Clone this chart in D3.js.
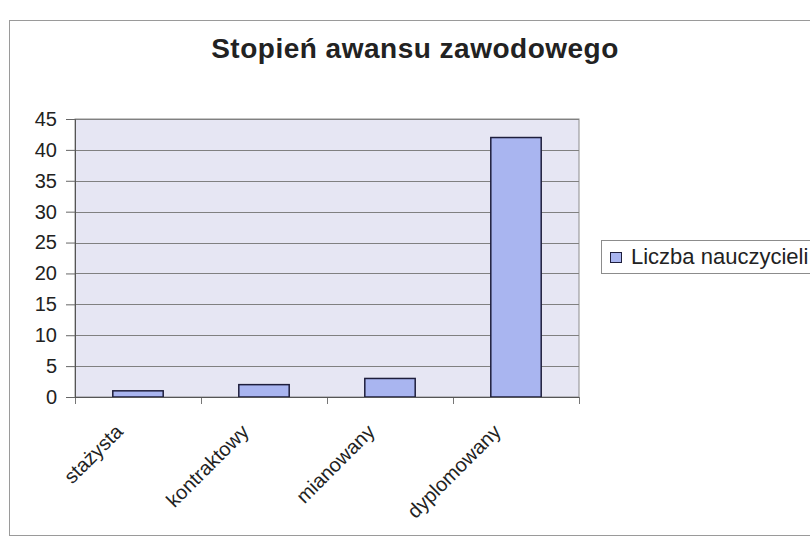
<!DOCTYPE html>
<html>
<head>
<meta charset="utf-8">
<script src="https://cdn.jsdelivr.net/npm/d3@7"></script>
<style>
  body { margin: 0; background: #fff; }
  text { font-family: "Liberation Sans", Arial, sans-serif; fill: #222; }
</style>
</head>
<body>
<div id="chart"></div>
<script>
var categories = ["stażysta", "kontraktowy", "mianowany", "dyplomowany"];
var values = [1, 2, 3, 42];
var yTicks = [0, 5, 10, 15, 20, 25, 30, 35, 40, 45];
var seriesName = "Liczba nauczycieli";
var title = "Stopień awansu zawodowego";

var width = 810, height = 544;
var margin = { top: 119, left: 75, right: 231, bottom: 147 };
var plotW = width - margin.left - margin.right,
    plotH = height - margin.top - margin.bottom;

var svg = d3.select("#chart").append("svg")
    .attr("width", width)
    .attr("height", height);

// outer chart frame
svg.append("rect")
    .attr("x", 9.5).attr("y", 20.5)
    .attr("width", 810).attr("height", 515)
    .attr("fill", "#fff")
    .attr("stroke", "#9a9a9a");

svg.append("text")
    .attr("x", 415).attr("y", 58)
    .attr("text-anchor", "middle")
    .style("font-size", "28px")
    .style("font-weight", "bold")
    .style("letter-spacing", "0.5px")
    .attr("fill", "#2a2a2a")
    .text(title);

var g = svg.append("g")
    .attr("transform", "translate(" + margin.left + "," + margin.top + ")");

var x = d3.scaleBand()
    .domain(categories)
    .range([0, plotW])
    .paddingInner(0.6)
    .paddingOuter(0.3);

var y = d3.scaleLinear()
    .domain([0, 45])
    .range([plotH, 0]);

g.append("rect")
    .attr("width", plotW).attr("height", plotH)
    .attr("fill", "#e6e6f3")
    .attr("stroke", "#8c8c8c");

// gridlines
g.selectAll(".grid")
    .data(yTicks.slice(1))
    .enter().append("line")
    .attr("x1", 0).attr("x2", plotW)
    .attr("y1", function(d) { return Math.round(y(d)) + 0.5; })
    .attr("y2", function(d) { return Math.round(y(d)) + 0.5; })
    .attr("stroke", "#808080");

g.selectAll(".bar")
    .data(values)
    .enter().append("rect")
    .attr("x", function(d, i) { return x(categories[i]); })
    .attr("y", function(d) { return y(d); })
    .attr("width", x.bandwidth())
    .attr("height", function(d) { return plotH - y(d); })
    .attr("fill", "#a9b5f0")
    .attr("stroke", "#1e1e3c")
    .attr("stroke-width", 1.5);

var yAxis = g.append("g")
    .call(d3.axisLeft(y).tickValues(yTicks).tickSize(9).tickPadding(9));
yAxis.select(".domain").attr("stroke", "#555");
yAxis.selectAll(".tick line").attr("stroke", "#666");
yAxis.selectAll(".tick text")
    .style("font-size", "20px")
    .attr("fill", "#222");

// category boundaries as tick marks below the axis
var bounds = d3.range(categories.length + 1).map(function(i) { return i * plotW / categories.length; });
g.selectAll(".xt")
    .data(bounds)
    .enter().append("line")
    .attr("x1", function(d) { return Math.round(d) + 0.5; })
    .attr("x2", function(d) { return Math.round(d) + 0.5; })
    .attr("y1", plotH).attr("y2", plotH + 7)
    .attr("stroke", "#777");
g.append("line")
    .attr("x1", 0).attr("x2", plotW)
    .attr("y1", plotH + 0.5).attr("y2", plotH + 0.5)
    .attr("stroke", "#555");

g.selectAll(".xl")
    .data(categories)
    .enter().append("text")
    .attr("transform", function(d) {
        var cx = x(d) + x.bandwidth() / 2 - 14;
        return "translate(" + cx + "," + (plotH + 36) + ") rotate(-45)";
    })
    .attr("text-anchor", "end")
    .style("font-size", "20px")
    .text(function(d) { return d; });

// legend
var lg = svg.append("g").attr("transform", "translate(601,240)");
lg.append("rect")
    .attr("x", 0.5).attr("y", 0.5)
    .attr("width", 230).attr("height", 33)
    .attr("fill", "#fff")
    .attr("stroke", "#8c8c8c");
lg.append("rect")
    .attr("x", 9.5).attr("y", 12.5)
    .attr("width", 11).attr("height", 10)
    .attr("fill", "#a9b5f0")
    .attr("stroke", "#1e1e3c");
lg.append("text")
    .attr("x", 30).attr("y", 24)
    .style("font-size", "22px")
    .text(seriesName);
</script>
</body>
</html>
